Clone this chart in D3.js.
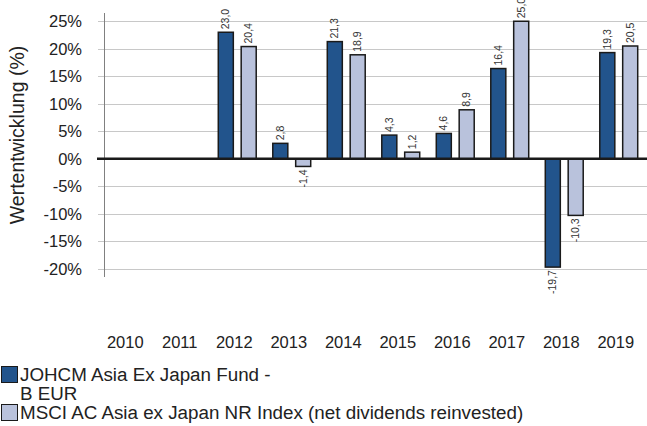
<!DOCTYPE html>
<html><head><meta charset="utf-8">
<script src="https://cdn.jsdelivr.net/npm/d3@7"></script>
<style>body{margin:0;background:#fff}svg{display:block;font-family:"Liberation Sans",Arial,sans-serif}</style>
</head><body><svg id="c" width="647" height="426"></svg>
<script>
const years = ["2010","2011","2012","2013","2014","2015","2016","2017","2018","2019"];
const fundValues = [null,null,23.0,2.8,21.3,4.3,4.6,16.4,-19.7,19.3];
const indexValues = [null,null,20.4,-1.4,18.9,1.2,8.9,25.0,-10.3,20.5];
const seriesNames = ["JOHCM Asia Ex Japan Fund -\nB EUR","MSCI AC Asia ex Japan NR Index (net dividends reinvested)"];
const yTicks = [25,20,15,10,5,0,-5,-10,-15,-20];
const colors = ["#22548c","#b9c2dc"];

const svg = d3.select("#c");
const x = d3.scaleBand().domain(years).range([101,646]);
const sub = d3.scaleBand().domain([0,1]).range([0,x.bandwidth()]).paddingInner(0.3).paddingOuter(0.34);
const y = d3.scaleLinear().domain([-21.5,26.5]).range([277,13]);

// gridlines
svg.append("g").selectAll("line").data(yTicks.filter(d=>d!==0)).join("line")
  .attr("x1",98).attr("x2",647).attr("y1",d=>Math.round(y(d))+0.5).attr("y2",d=>Math.round(y(d))+0.5)
  .attr("stroke","#c8c8c8").attr("stroke-width",1);
// y axis line
svg.append("line").attr("x1",104.5).attr("x2",104.5).attr("y1",13).attr("y2",277).attr("stroke","#808080");
// tick labels
svg.append("g").selectAll("text").data(yTicks).join("text")
  .attr("x",82).attr("y",d=>y(d)).attr("dy","0.35em").attr("text-anchor","end")
  .attr("font-size",16.5).attr("fill","#222").text(d=>d+"%");
// y label
svg.append("text").attr("transform","translate(24,135) rotate(-90)").attr("text-anchor","middle")
  .attr("font-size",19.5).attr("fill","#222").text("Wertentwicklung (%)");

const data = [];
years.forEach((yr,i)=>{[fundValues,indexValues].forEach((arr,s)=>{ if(arr[i]!==null) data.push({yr,s,v:arr[i]}); });});

svg.append("g").selectAll("rect").data(data).join("rect")
  .attr("x",d=>x(d.yr)+sub(d.s)+0.5).attr("width",sub.bandwidth()-1)
  .attr("y",d=>Math.min(y(d.v),y(0))).attr("height",d=>Math.abs(y(d.v)-y(0)))
  .attr("fill",d=>colors[d.s]).attr("stroke","#1a1a1a").attr("stroke-width",1.5);

// zero line
svg.append("line").attr("x1",97).attr("x2",647).attr("y1",y(0)).attr("y2",y(0)).attr("stroke","#1a1a1a").attr("stroke-width",2.5);

// value labels
const fmt = v=>v.toFixed(1).replace(".",",");
svg.append("g").selectAll("text").data(data).join("text")
  .attr("transform",d=>{const cx=x(d.yr)+sub(d.s)+sub.bandwidth()/2; const yy=d.v>=0?y(d.v)-3:y(d.v)+3; return `translate(${cx},${yy}) rotate(-90)`;})
  .attr("text-anchor",d=>d.v>=0?"start":"end").attr("dy","0.35em")
  .attr("font-size",10.5).attr("fill","#333").text(d=>fmt(d.v));

// x labels
svg.append("g").selectAll("text").data(years).join("text")
  .attr("x",d=>x(d)+x.bandwidth()/2-3).attr("y",348).attr("text-anchor","middle")
  .attr("font-size",16.5).attr("fill","#222").text(d=>d);

// legend
const lg = svg.append("g");
const legY = [366,404];
seriesNames.forEach((n,i)=>{
  lg.append("rect").attr("x",1.5).attr("y",legY[i]+0.5).attr("width",16).attr("height",16)
    .attr("fill",colors[i]).attr("stroke","#1a1a1a").attr("stroke-width",1);
  n.split("\n").forEach((line,j)=>{
    lg.append("text").attr("x",20).attr("y",legY[i]+15+j*19).attr("font-size",18.8).attr("fill","#222").text(line);
  });
});
</script></body></html>
